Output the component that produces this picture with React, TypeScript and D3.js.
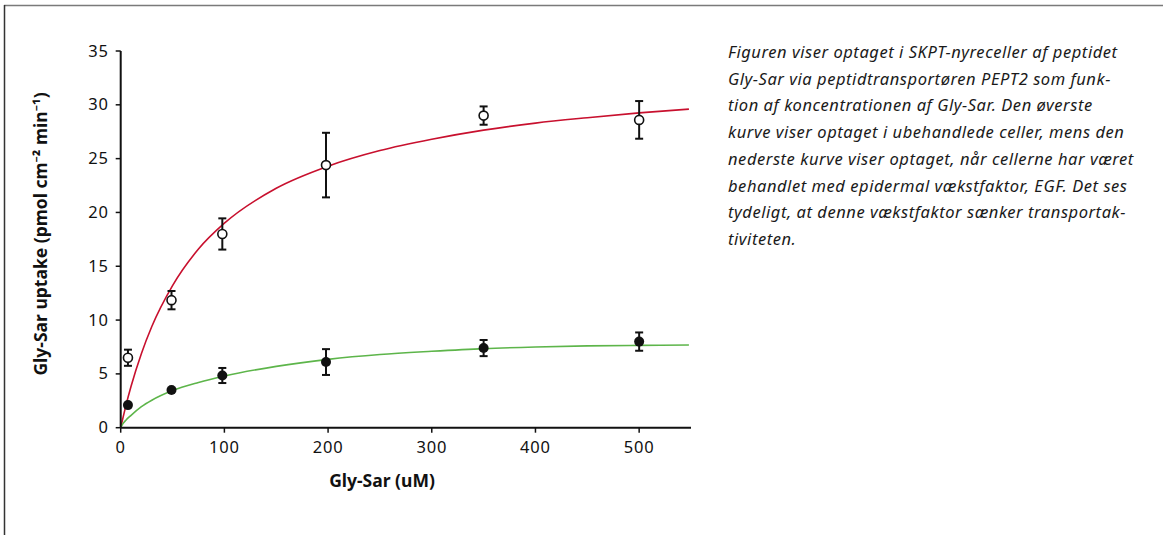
import React from "react";
import * as d3 from "d3";

// Measured points (Gly-Sar concentration, uM)
const concentrations = [7, 49, 98, 198, 350, 500];
// Untreated cells (open circles)
const controlMean = [6.5, 11.85, 18.0, 24.4, 29.0, 28.6];
const controlErr = [0.75, 0.85, 1.45, 3.0, 0.85, 1.75];
// EGF-treated cells (filled circles)
const egfMean = [2.1, 3.5, 4.85, 6.1, 7.4, 8.0];
const egfErr = [0, 0, 0.7, 1.2, 0.75, 0.85];

// Fitted curves
const curveX = [0, 2, 5, 10, 20, 30, 50, 75, 100, 150, 200, 250, 300, 350, 400, 450, 500, 548];
const controlCurve = [0, 0.85, 2.05, 3.85, 6.9, 9.4, 13.2, 16.6, 19.0, 22.25, 24.3, 25.75, 26.8, 27.65, 28.3, 28.8, 29.25, 29.6];
const egfCurve = [0, 0.35, 0.7, 1.15, 1.95, 2.55, 3.45, 4.2, 4.8, 5.7, 6.35, 6.8, 7.1, 7.35, 7.5, 7.6, 7.65, 7.68];

const xTicks = [0, 100, 200, 300, 400, 500];
const yTicks = [0, 5, 10, 15, 20, 25, 30, 35];

const captionLines = [
  "Figuren viser optaget i SKPT-nyreceller af peptidet",
  "Gly-Sar via peptidtransportøren PEPT2 som funk-",
  "tion af koncentrationen af Gly-Sar. Den øverste",
  "kurve viser optaget i ubehandlede celler, mens den",
  "nederste kurve viser optaget, når cellerne har været",
  "behandlet med epidermal vækstfaktor, EGF. Det ses",
  "tydeligt, at denne vækstfaktor sænker transportak-",
  "tiviteten.",
];

const W = 1163;
const H = 535;
const FONT = "'Noto Sans', 'Open Sans', sans-serif";

export default function App() {
  const x = d3.scaleLinear().domain([0, 550]).range([120.7, 691]);
  const y = d3.scaleLinear().domain([0, 35]).range([427.7, 51]);

  const line = d3
    .line<[number, number]>()
    .x((d) => x(d[0]))
    .y((d) => y(d[1]))
    .curve(d3.curveMonotoneX);

  const redPts = curveX.map((v, i) => [v, controlCurve[i]] as [number, number]);
  const greenPts = curveX.map((v, i) => [v, egfCurve[i]] as [number, number]);

  const renderErr = (mean: number[], err: number[], key: string) =>
    concentrations.map((c, i) =>
      err[i] > 0 ? (
        <g key={key + i} stroke="#111" strokeWidth={2}>
          <line x1={x(c)} x2={x(c)} y1={y(mean[i] + err[i])} y2={y(mean[i] - err[i])} />
          <line x1={x(c) - 4} x2={x(c) + 4} y1={y(mean[i] + err[i])} y2={y(mean[i] + err[i])} />
          <line x1={x(c) - 4} x2={x(c) + 4} y1={y(mean[i] - err[i])} y2={y(mean[i] - err[i])} />
        </g>
      ) : null
    );

  return (
    <svg
      width={W}
      height={H}
      style={{ position: "absolute", left: 0, top: 0, background: "#fff" }}
      fontFamily={FONT}
    >
      {/* frame */}
      <line x1={4} x2={W} y1={5.5} y2={5.5} stroke="#7a7a7a" strokeWidth={1.5} />
      <line x1={4.5} x2={4.5} y1={5} y2={H} stroke="#333" strokeWidth={1.5} />

      {/* curves */}
      <path d={line(redPts) || ""} fill="none" stroke="#c8102e" strokeWidth={1.6} />
      <path d={line(greenPts) || ""} fill="none" stroke="#5db54a" strokeWidth={1.6} />

      {/* error bars */}
      {renderErr(controlMean, controlErr, "c")}
      {renderErr(egfMean, egfErr, "e")}

      {/* markers */}
      {concentrations.map((c, i) => (
        <circle key={"co" + i} cx={x(c)} cy={y(controlMean[i])} r={4.5} fill="#fff" stroke="#111" strokeWidth={1.6} />
      ))}
      {concentrations.map((c, i) => (
        <circle key={"eg" + i} cx={x(c)} cy={y(egfMean[i])} r={5} fill="#111" />
      ))}

      {/* axes */}
      <line x1={x(0)} x2={x(550)} y1={y(0)} y2={y(0)} stroke="#111" strokeWidth={2} />
      <line x1={x(0)} x2={x(0)} y1={y(0)} y2={y(35)} stroke="#111" strokeWidth={2} />
      {xTicks.map((t) => (
        <g key={"xt" + t}>
          <line x1={x(t)} x2={x(t)} y1={y(0)} y2={y(0) + 5} stroke="#111" strokeWidth={1.5} />
          <text
            x={x(t)}
            y={y(0) + 25}
            textAnchor="middle"
            fontSize={16.5}
            letterSpacing={0.8}
            fill="#111"
          >
            {t}
          </text>
        </g>
      ))}
      {yTicks.map((t) => (
        <g key={"yt" + t}>
          <line x1={x(0) - 5} x2={x(0)} y1={y(t)} y2={y(t)} stroke="#111" strokeWidth={1.5} />
          <text
            x={x(0) - 12}
            y={y(t) + 5.5}
            textAnchor="end"
            fontSize={16.5}
            letterSpacing={0.8}
            fill="#111"
          >
            {t}
          </text>
        </g>
      ))}

      {/* axis titles */}
      <text x={382} y={487} textAnchor="middle" fontSize={17.5} fontWeight="bold" fill="#111">
        Gly-Sar (uM)
      </text>
      <text
        transform={`translate(47,234) rotate(-90)`}
        textAnchor="middle"
        fontSize={17.5}
        fontWeight="bold"
        fill="#111"
      >
        Gly-Sar uptake (pmol cm⁻² min⁻¹)
      </text>

      {/* caption */}
      {captionLines.map((l, i) => (
        <text
          key={"cap" + i}
          x={728}
          y={58 + i * 26.7}
          fontSize={16.5}
          letterSpacing={0.55}
          fontStyle="italic"
          fill="#1a1a1a"
        >
          {l}
        </text>
      ))}
    </svg>
  );
}
